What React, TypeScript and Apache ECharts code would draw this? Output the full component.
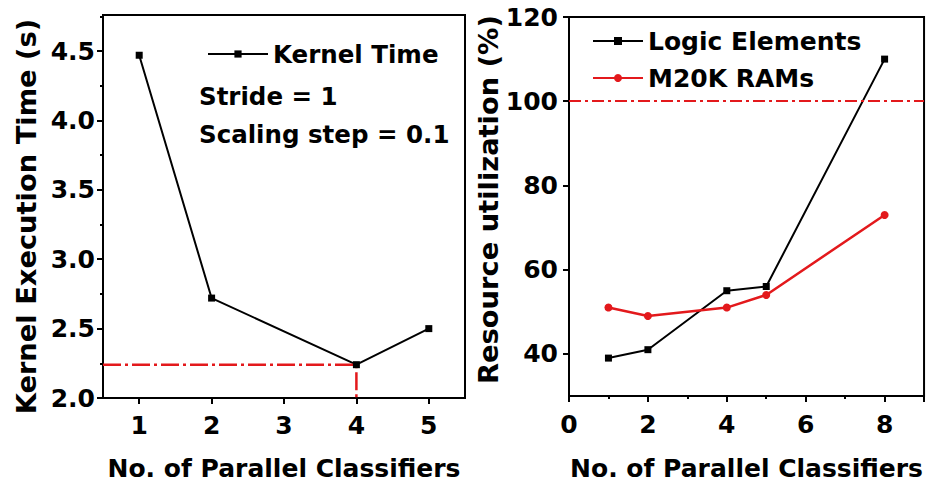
import React, { useEffect, useRef } from "react";
import * as echarts from "echarts";

// ---- Data (left panel) ----
const leftClassifiers = [1, 2, 4, 5];
const kernelTime = [4.47, 2.72, 2.24, 2.5];
const leftXTicks = [1, 2, 3, 4, 5];
const leftYTicks = [2.0, 2.5, 3.0, 3.5, 4.0, 4.5];
const leftXMin = 0.5;
const leftXMax = 5.5;
const leftYMin = 2.0;
const leftYMax = 4.76;
const optimumClassifiers = 4;
const optimumTime = 2.24;
const annotationLines = ["Stride = 1", "Scaling step = 0.1"];

// ---- Data (right panel) ----
const rightClassifiers = [1, 2, 4, 5, 8];
const logicElements = [39, 41, 55, 56, 110];
const m20kRams = [51, 49, 51, 54, 73];
const rightXTicks = [0, 2, 4, 6, 8];
const rightYTicks = [40, 60, 80, 100, 120];
const rightXMin = 0;
const rightXMax = 9;
const rightYMin = 30;
const rightYMax = 120;
const limitPercent = 100;

const FONT = "DejaVu Sans";
const RED = "#e3191c";
const BLACK = "#000";

export default function App() {
  const ref = useRef<HTMLDivElement>(null);
  useEffect(() => {
    if (!ref.current) return;
    const chart = echarts.init(ref.current, undefined, { renderer: "svg" });
    const txt = { fontFamily: FONT, fontWeight: "bold" as const, color: BLACK };
    const axisLine = { show: true, onZero: false, lineStyle: { color: BLACK, width: 2 } };
    const option: any = {
      animation: false,
      backgroundColor: "#fff",
      grid: [
        { left: 103, top: 15, right: 461, bottom: 83, show: true, borderColor: BLACK, borderWidth: 2, backgroundColor: "transparent", containLabel: false },
        { left: 569, top: 17, right: -1, bottom: 86, show: true, borderColor: BLACK, borderWidth: 2, backgroundColor: "transparent", containLabel: false },
      ],
      xAxis: [
        {
          type: "value", gridIndex: 0, min: leftXMin, max: leftXMax, interval: 1,
          axisLine, splitLine: { show: false },
          axisTick: { show: true, customValues: leftXTicks, length: 6, lineStyle: { width: 2, color: BLACK } },
          axisLabel: { ...txt, fontSize: 25, margin: 15, customValues: leftXTicks },
          name: "No. of Parallel Classifiers", nameLocation: "middle", nameGap: 58,
          nameTextStyle: { ...txt, fontSize: 25 },
        },
        {
          type: "value", gridIndex: 1, min: rightXMin, max: rightXMax, interval: 2,
          axisLine, splitLine: { show: false },
          axisTick: { show: true, length: 6, lineStyle: { width: 2, color: BLACK } },
          minorTick: { show: true, splitNumber: 2, length: 3, lineStyle: { width: 2, color: BLACK } },
          axisLabel: { ...txt, fontSize: 25, margin: 16, customValues: rightXTicks },
          name: "No. of Parallel Classifiers", nameLocation: "middle", nameGap: 60,
          nameTextStyle: { ...txt, fontSize: 25 },
        },
      ],
      yAxis: [
        {
          type: "value", gridIndex: 0, min: leftYMin, max: leftYMax, interval: 0.5,
          axisLine, splitLine: { show: false },
          axisTick: { show: true, customValues: leftYTicks, length: 6, lineStyle: { width: 2, color: BLACK } },
          minorTick: { show: true, splitNumber: 2, length: 3, lineStyle: { width: 2, color: BLACK } },
          axisLabel: { ...txt, fontSize: 25, margin: 8, customValues: leftYTicks, formatter: (v: number) => v.toFixed(1) },
          name: "Kernel Execution Time (s)", nameLocation: "middle", nameGap: 63,
          nameTextStyle: { ...txt, fontSize: 27.3, padding: [0, 20, 0, 0] },
        },
        {
          type: "value", gridIndex: 1, min: rightYMin, max: rightYMax, interval: 10,
          axisLine, splitLine: { show: false },
          axisTick: { show: true, customValues: rightYTicks, length: 6, lineStyle: { width: 2, color: BLACK } },
          axisLabel: { ...txt, fontSize: 25, margin: 11, customValues: rightYTicks },
          name: "Resource utilization (%)", nameLocation: "middle", nameGap: 61,
          nameTextStyle: { ...txt, fontSize: 27.3, padding: [0, 0, 0, 14] },
        },
      ],
      legend: [
        {
          data: ["Kernel Time"], left: 202, top: 34, itemWidth: 60, itemHeight: 9, itemGap: 7,
          textStyle: { ...txt, fontSize: 24.5, lineHeight: 30 },
        },
        {
          data: ["Logic Elements", "M20K RAMs"], orient: "vertical", left: 587, top: 21,
          itemWidth: 50, itemHeight: 10, itemGap: 7,
          textStyle: { ...txt, fontSize: 25, lineHeight: 30 },
        },
      ],
      graphic: annotationLines.map((t, i) => ({
        type: "text", left: 199, top: 84 + i * 38,
        style: { text: t, fontFamily: FONT, fontWeight: "bold", fontSize: 24.5, fill: BLACK },
      })),
      series: [
        {
          name: "Kernel Time", type: "line", xAxisIndex: 0, yAxisIndex: 0,
          data: leftClassifiers.map((x, i) => [x, kernelTime[i]]),
          symbol: "rect", symbolSize: 7, color: BLACK,
          lineStyle: { color: BLACK, width: 2 }, itemStyle: { color: BLACK },
        },
        {
          name: "optimum", type: "line", xAxisIndex: 0, yAxisIndex: 0,
          data: [[leftXMin, optimumTime], [optimumClassifiers, optimumTime], [optimumClassifiers, leftYMin]],
          symbol: "none", silent: true, z: 3,
          lineStyle: { color: RED, width: 2.5, type: [18, 4, 3, 4] },
        },
        {
          name: "Logic Elements", type: "line", xAxisIndex: 1, yAxisIndex: 1,
          data: rightClassifiers.map((x, i) => [x, logicElements[i]]),
          symbol: "rect", symbolSize: 7, color: BLACK,
          lineStyle: { color: BLACK, width: 2 }, itemStyle: { color: BLACK },
          markLine: {
            silent: true, symbol: "none", label: { show: false },
            lineStyle: { color: RED, width: 1.8, type: [12, 4, 3, 4] },
            data: [{ yAxis: limitPercent }],
          },
        },
        {
          name: "M20K RAMs", type: "line", xAxisIndex: 1, yAxisIndex: 1,
          data: rightClassifiers.map((x, i) => [x, m20kRams[i]]),
          symbol: "circle", symbolSize: 8, color: RED,
          lineStyle: { color: RED, width: 2.5 }, itemStyle: { color: RED },
        },
      ],
    };
    chart.setOption(option);
    return () => chart.dispose();
  }, []);
  return (
    <div
      ref={ref}
      style={{ position: "fixed", left: 0, top: 0, width: 926, height: 486, background: "#fff" }}
    />
  );
}
